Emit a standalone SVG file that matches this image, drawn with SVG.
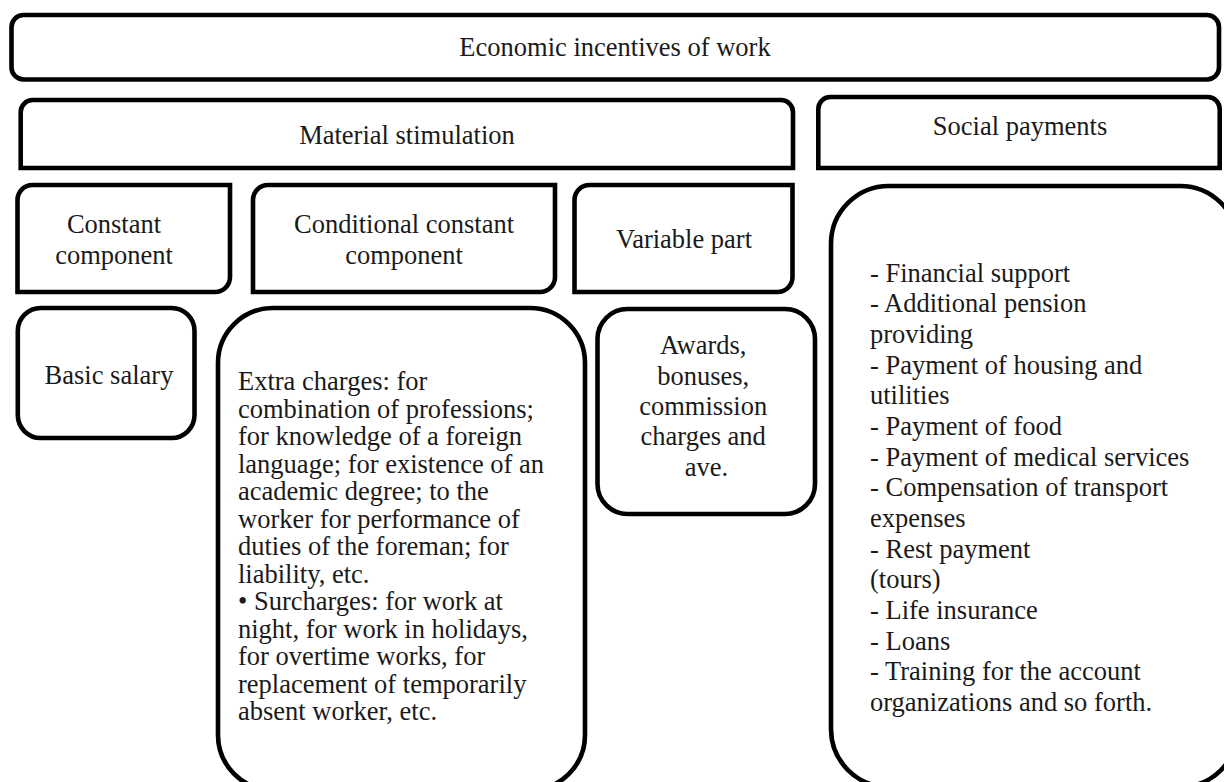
<svg xmlns="http://www.w3.org/2000/svg" width="1224" height="782" viewBox="0 0 1224 782">
<style>
.b{fill:#fff;stroke:#000;stroke-width:4.6}
.t{font-family:"Liberation Serif","Times New Roman",serif;font-size:26.5px;fill:#1a1a1a}
.c{text-anchor:middle}
</style>
<rect width="1224" height="782" fill="#fff"/>
<g id="connectors"></g>
<g id="economic">
<rect class="b" x="11.5" y="15" width="1207.5" height="64.5" rx="12"/>
<text class="t c" x="615" y="56">Economic incentives of work</text>
</g>
<g id="material">
<path class="b" d="M20.7,168 V112 A12,12 0 0 1 32.7,100 H781 A12,12 0 0 1 793,112 V168 Z"/>
<text class="t c" x="407" y="144">Material stimulation</text>
</g>
<g id="social">
<path class="b" d="M818.3,168 V109 A12,12 0 0 1 830.3,97 H1207.7 A12,12 0 0 1 1219.7,109 V168 Z"/>
<text class="t c" x="1020" y="134.5">Social payments</text>
</g>
<g id="constant">
<path class="b" d="M17.5,292 V200 A15,15 0 0 1 32.5,185 H230 V277 A15,15 0 0 1 215,292 Z"/>
<text class="t c" x="114" y="233">Constant</text>
<text class="t c" x="114" y="263.5">component</text>
</g>
<g id="conditional">
<path class="b" d="M253,292 V200 A15,15 0 0 1 268,185 H555 V277 A15,15 0 0 1 540,292 Z"/>
<text class="t c" x="404" y="233">Conditional constant</text>
<text class="t c" x="404" y="263.5">component</text>
</g>
<g id="variable">
<path class="b" d="M574.5,292 V200 A15,15 0 0 1 589.5,185 H792.5 V277 A15,15 0 0 1 777.5,292 Z"/>
<text class="t c" x="684" y="248">Variable part</text>
</g>
<g id="basic">
<rect class="b" x="17.8" y="308" width="176.7" height="130" rx="23"/>
<text class="t c" x="109" y="384">Basic salary</text>
</g>
<g id="extra">
<rect class="b" x="218" y="308" width="367" height="482" rx="55"/>
<text class="t" x="238" y="390">
<tspan x="238" y="390">Extra charges: for</tspan>
<tspan x="238" y="417.5">combination of professions;</tspan>
<tspan x="238" y="445">for knowledge of a foreign</tspan>
<tspan x="238" y="472.5">language; for existence of an</tspan>
<tspan x="238" y="500">academic degree; to the</tspan>
<tspan x="238" y="527.5">worker for performance of</tspan>
<tspan x="238" y="555">duties of the foreman; for</tspan>
<tspan x="238" y="582.5">liability, etc.</tspan>
<tspan x="238" y="610">• Surcharges: for work at</tspan>
<tspan x="238" y="637.5">night, for work in holidays,</tspan>
<tspan x="238" y="665">for overtime works, for</tspan>
<tspan x="238" y="692.5">replacement of temporarily</tspan>
<tspan x="238" y="720">absent worker, etc.</tspan>
</text>
</g>
<g id="awards">
<rect class="b" x="597.5" y="309" width="217.5" height="205" rx="30"/>
<text class="t c">
<tspan x="706.5" y="354.3">Awards,</tspan>
<tspan x="706.5" y="384.6">bonuses,</tspan>
<tspan x="706.5" y="414.9">commission</tspan>
<tspan x="706.5" y="445.2">charges and</tspan>
<tspan x="706.5" y="475.5">ave.</tspan>
</text>
</g>
<g id="social-list">
<rect class="b" x="831" y="186" width="407" height="601" rx="58"/>
<text class="t">
<tspan x="870" y="281.7">- Financial support</tspan>
<tspan x="870" y="312.3">- Additional pension</tspan>
<tspan x="870" y="343">providing</tspan>
<tspan x="870" y="373.6">- Payment of housing and</tspan>
<tspan x="870" y="404.3">utilities</tspan>
<tspan x="870" y="434.9">- Payment of food</tspan>
<tspan x="870" y="465.6">- Payment of medical services</tspan>
<tspan x="870" y="496.2">- Compensation of transport</tspan>
<tspan x="870" y="526.9">expenses</tspan>
<tspan x="870" y="557.5">- Rest payment</tspan>
<tspan x="870" y="588.2">(tours)</tspan>
<tspan x="870" y="618.8">- Life insurance</tspan>
<tspan x="870" y="649.5">- Loans</tspan>
<tspan x="870" y="680.1">- Training for the account</tspan>
<tspan x="870" y="710.8">organizations and so forth.</tspan>
</text>
</g>
</svg>
